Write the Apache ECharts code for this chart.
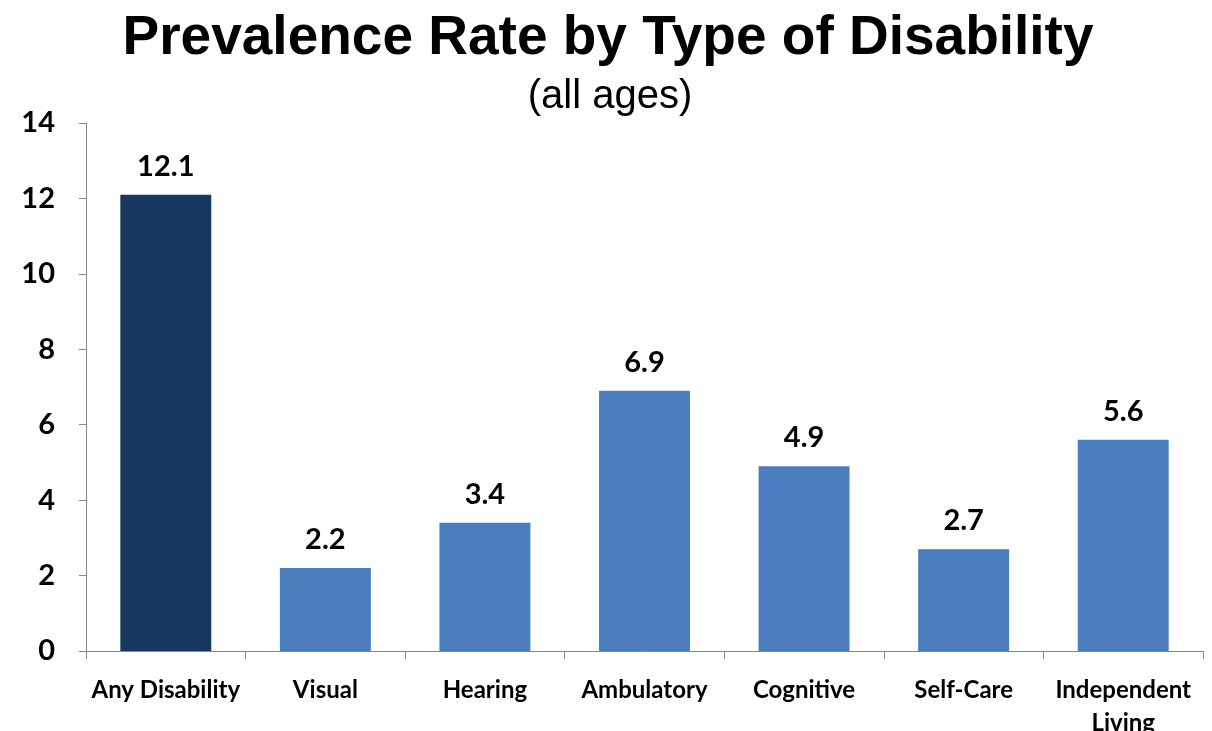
<!DOCTYPE html>
<html><head><meta charset="utf-8">
<script src="https://cdn.jsdelivr.net/npm/echarts@6/dist/echarts.min.js"></script>
<style>html,body{margin:0;padding:0;background:#fff}#c{width:1212px;height:731px}</style>
</head><body><div id="c"></div>
<script>
const categories = ['Any Disability','Visual','Hearing','Ambulatory','Cognitive','Self-Care','Independent\nLiving'];
const values = [12.1, 2.2, 3.4, 6.9, 4.9, 2.7, 5.6];
const yTicks = [0, 2, 4, 6, 8, 10, 12, 14];
const chart = echarts.init(document.getElementById('c'));
const lab = 'Lato, "Open Sans", sans-serif';
chart.setOption({
  animation: false,
  title: [
    {text: 'Prevalence Rate by Type of Disability', left: 603, top: 6, textAlign: 'center',
     textStyle: {fontFamily: 'Liberation Sans, Arial, sans-serif', fontSize: 55, fontWeight: 'bold', color: '#000'}},
    {text: '(all ages)', left: 605, top: 72, textAlign: 'center',
     textStyle: {fontFamily: 'Liberation Sans, Arial, sans-serif', fontSize: 40, fontWeight: 'normal', color: '#000'}}
  ],
  grid: {left: 86, right: 9, top: 123, bottom: 80, containLabel: false, outerBoundsMode: 'none'},
  xAxis: {
    type: 'category', data: categories,
    axisLine: {lineStyle: {color: '#888'}},
    axisTick: {show: true, length: 8, lineStyle: {color: '#888'}},
    axisLabel: {margin: 23, fontFamily: lab, fontWeight: 'bold', fontSize: 24, color: '#000', lineHeight: 33, interval: 0}
  },
  yAxis: {
    type: 'value', min: yTicks[0], max: yTicks[yTicks.length-1], interval: 2,
    splitLine: {show: false},
    axisLine: {show: true, lineStyle: {color: '#888'}},
    axisTick: {show: true, length: 7, lineStyle: {color: '#888'}},
    axisLabel: {margin: 31, fontFamily: lab, fontWeight: 'bold', fontSize: 29, color: '#000'}
  },
  series: [{
    type: 'bar', barWidth: '57%',
    data: values.map((v, i) => ({value: v, itemStyle: {color: i === 0 ? '#17375e' : '#4a7ebf'}})),
    label: {show: true, position: 'top', distance: 14, fontFamily: lab, fontWeight: 'bold', fontSize: 29, color: '#000',
      formatter: p => p.value.toFixed(1)}
  }]
});
</script></body></html>
